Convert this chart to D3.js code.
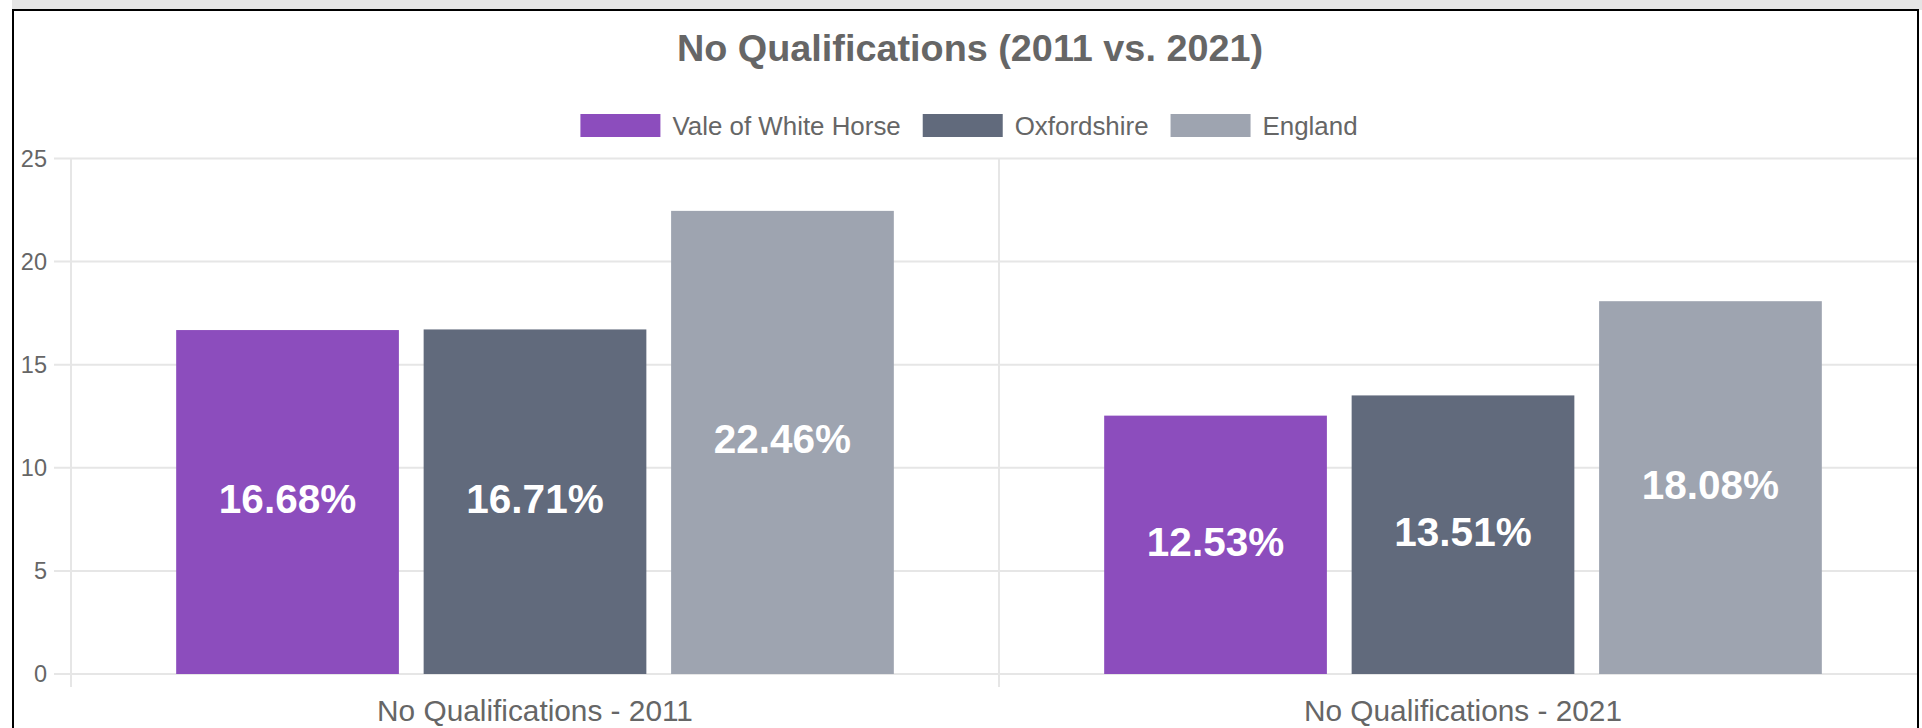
<!doctype html>
<html>
<head>
  <meta charset="utf-8">
  <script src="https://cdnjs.cloudflare.com/ajax/libs/d3/7.8.5/d3.min.js"></script>
  <style>
    body { margin: 0; background: white; }
    svg { display: block; font-family: 'Liberation Sans', Arial, sans-serif; }
    .grid line { stroke: #e6e6e6; stroke-width: 2px; }
  </style>
</head>
<body>
  <script>
    const width = 1922;
    const height = 728;

    // data
    const categories = ['No Qualifications - 2011', 'No Qualifications - 2021'];
    const seriesNames = ['Vale of White Horse', 'Oxfordshire', 'England'];
    const seriesColors = ['#8c4dbd', '#616a7c', '#9ea4b0'];
    const valeValues = [16.68, 12.53];
    const oxfordValues = [16.71, 13.51];
    const englandValues = [22.46, 18.08];
    const yTicks = [0, 5, 10, 15, 20, 25];

    const seriesValues = [valeValues, oxfordValues, englandValues];
    const rows = [];
    categories.forEach((c, ci) => {
      seriesNames.forEach((s, si) => {
        rows.push({cat: c, series: s, value: seriesValues[si][ci], color: seriesColors[si]});
      });
    });

    const svg = d3.select('body').append('svg')
      .attr('width', width)
      .attr('height', height);

    // page frame
    svg.append('rect').attr('x', 12).attr('y', 0).attr('width', width - 12).attr('height', 10).attr('fill', '#e5e5e5');
    svg.append('clipPath').attr('id', 'box')
      .append('rect').attr('x', 14).attr('y', 11).attr('width', 1903).attr('height', height);

    const g = svg.append('g').attr('clip-path', 'url(#box)');

    const plotLeft = 71, plotRight = 1927, plotTop = 158.5, plotBottom = 674;

    const x0 = d3.scaleBand().domain(categories).range([plotLeft, plotRight]);
    const cw = x0.bandwidth();
    const x1 = d3.scaleBand().domain(seriesNames)
      .range([0.1 * cw, 0.9 * cw])
      .paddingInner(0.1).paddingOuter(0.05);
    const y = d3.scaleLinear().domain([0, 25]).range([plotBottom, plotTop]);

    // horizontal grid
    const grid = g.append('g').attr('class', 'grid');
    grid.selectAll('line.h').data(yTicks).join('line')
      .attr('class', 'h')
      .attr('x1', 54).attr('x2', plotRight)
      .attr('y1', d => y(d)).attr('y2', d => y(d));

    // vertical grid at category edges
    const edges = categories.map(c => x0(c)).concat([plotRight]);
    grid.selectAll('line.v').data(edges).join('line')
      .attr('class', 'v')
      .attr('x1', d => d).attr('x2', d => d)
      .attr('y1', plotTop).attr('y2', plotBottom + 13);

    // y tick labels
    g.selectAll('text.ytick').data(yTicks).join('text')
      .attr('class', 'ytick')
      .attr('x', 47).attr('y', d => y(d))
      .attr('text-anchor', 'end')
      .attr('dominant-baseline', 'central')
      .attr('fill', '#666')
      .style('font-size', '23.5px')
      .text(d => d);

    // bars
    const bars = g.selectAll('g.bar').data(rows).join('g').attr('class', 'bar');
    bars.append('rect')
      .attr('x', d => x0(d.cat) + x1(d.series))
      .attr('y', d => y(d.value))
      .attr('width', x1.bandwidth())
      .attr('height', d => y(0) - y(d.value))
      .attr('fill', d => d.color);
    bars.append('text')
      .attr('x', d => x0(d.cat) + x1(d.series) + x1.bandwidth() / 2)
      .attr('y', d => (y(d.value) + y(0)) / 2 - 3)
      .attr('text-anchor', 'middle')
      .attr('dominant-baseline', 'central')
      .attr('fill', 'white')
      .style('font-size', '40.5px')
      .style('font-weight', 'bold')
      .text(d => d.value.toFixed(2) + '%');

    // x labels
    g.selectAll('text.xlab').data(categories).join('text')
      .attr('class', 'xlab')
      .attr('x', d => x0(d) + cw / 2)
      .attr('y', 710)
      .attr('text-anchor', 'middle')
      .attr('dominant-baseline', 'central')
      .attr('fill', '#666')
      .style('font-size', '29.8px')
      .text(d => d);

    // title
    g.append('text')
      .attr('x', 970).attr('y', 61)
      .attr('text-anchor', 'middle')
      .attr('fill', '#666')
      .style('font-size', '37.8px')
      .style('font-weight', 'bold')
      .text('No Qualifications (2011 vs. 2021)');

    // legend, laid out from measured text widths
    const boxW = 80, boxH = 23, textGap = 12, itemGap = 22;
    const legend = g.append('g');
    const items = legend.selectAll('g').data(seriesNames).join('g');
    items.append('rect')
      .attr('width', boxW).attr('height', boxH)
      .attr('y', 114)
      .attr('fill', (d, i) => seriesColors[i]);
    items.append('text')
      .attr('x', boxW + textGap).attr('y', 125.5)
      .attr('dominant-baseline', 'central')
      .attr('fill', '#666')
      .style('font-size', '25.9px')
      .text(d => d);
    let offsets = [], total = 0;
    items.each(function() {
      const w = boxW + textGap + d3.select(this).select('text').node().getComputedTextLength();
      offsets.push(total);
      total += w + itemGap;
    });
    total -= itemGap;
    const legendStart = 969 - total / 2;
    items.attr('transform', (d, i) => `translate(${legendStart + offsets[i]},0)`);

    // frame border
    svg.append('path')
      .attr('d', `M13,${height} V10 H1918 V${height}`)
      .attr('fill', 'none')
      .attr('stroke', 'black')
      .attr('stroke-width', 2);
  </script>
</body>
</html>
